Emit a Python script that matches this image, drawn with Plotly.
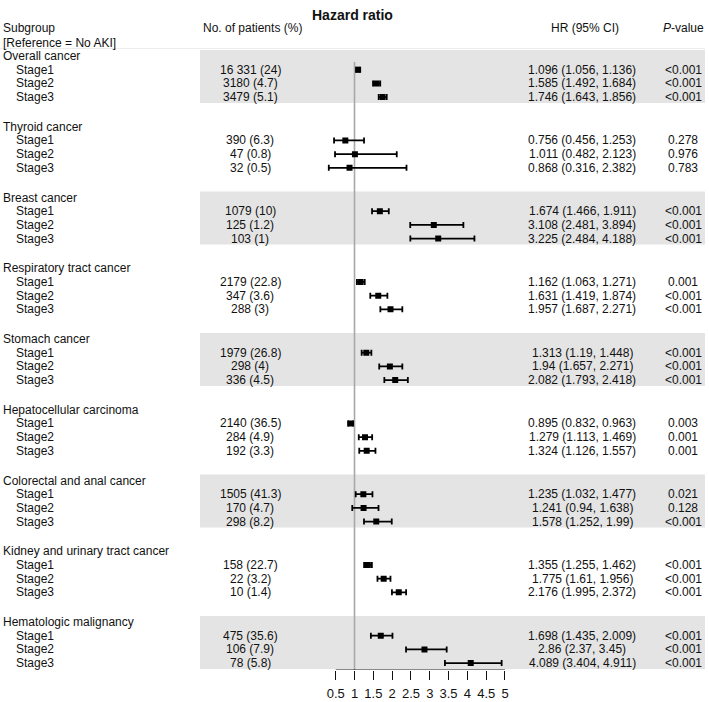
import plotly.graph_objects as go

# ---------------- data ----------------
groups = ["Overall cancer", "Thyroid cancer", "Breast cancer", "Respiratory tract cancer",
          "Stomach cancer", "Hepatocellular carcinoma", "Colorectal and anal cancer",
          "Kidney and urinary tract cancer", "Hematologic malignancy"]
stages = ["Stage1", "Stage2", "Stage3"]

patients = [16331, 3180, 3479,
            390, 47, 32,
            1079, 125, 103,
            2179, 347, 288,
            1979, 298, 336,
            2140, 284, 192,
            1505, 170, 298,
            158, 22, 10,
            475, 106, 78]
percents = [24, 4.7, 5.1,
            6.3, 0.8, 0.5,
            10, 1.2, 1,
            22.8, 3.6, 3,
            26.8, 4, 4.5,
            36.5, 4.9, 3.3,
            41.3, 4.7, 8.2,
            22.7, 3.2, 1.4,
            35.6, 7.9, 5.8]
hr = [1.096, 1.585, 1.746,
      0.756, 1.011, 0.868,
      1.674, 3.108, 3.225,
      1.162, 1.631, 1.957,
      1.313, 1.94, 2.082,
      0.895, 1.279, 1.324,
      1.235, 1.241, 1.578,
      1.355, 1.775, 2.176,
      1.698, 2.86, 4.089]
ci_low = [1.056, 1.492, 1.643,
          0.456, 0.482, 0.316,
          1.466, 2.481, 2.484,
          1.063, 1.419, 1.687,
          1.19, 1.657, 1.793,
          0.832, 1.113, 1.126,
          1.032, 0.94, 1.252,
          1.255, 1.61, 1.995,
          1.435, 2.37, 3.404]
ci_high = [1.136, 1.684, 1.856,
           1.253, 2.123, 2.382,
           1.911, 3.894, 4.188,
           1.271, 1.874, 2.271,
           1.448, 2.271, 2.418,
           0.963, 1.469, 1.557,
           1.477, 1.638, 1.99,
           1.462, 1.956, 2.372,
           2.009, 3.45, 4.911]
pvalues = ["<0.001", "<0.001", "<0.001",
           "0.278", "0.976", "0.783",
           "<0.001", "<0.001", "<0.001",
           "0.001", "<0.001", "<0.001",
           "<0.001", "<0.001", "<0.001",
           "0.003", "0.001", "0.001",
           "0.021", "0.128", "<0.001",
           "<0.001", "<0.001", "<0.001",
           "<0.001", "<0.001", "<0.001"]
tick_vals = [0.5, 1, 1.5, 2, 2.5, 3, 3.5, 4, 4.5, 5]
tick_text = ["0.5", "1", "1.5", "2", "2.5", "3", "3.5", "4", "4.5", "5"]

# ---------------- layout helpers ----------------
W, H = 709, 702
FONT = "Liberation Sans, Arial, sans-serif"
TXT = "#111111"
AX_BOTTOM = 670
GROUP_STEP = 70.75
ROW_STEP = 13.7
FIRST = 56


def fmt_n(n):
    s = str(n)
    if n >= 10000:
        s = s[:-3] + " " + s[-3:]
    return s


def g(v):
    return f"{v:g}"


header_y = [FIRST + GROUP_STEP * i for i in range(len(groups))]
row_y = []
for i in range(len(groups)):
    for k in range(3):
        row_y.append(header_y[i] + ROW_STEP * (k + 1))


def px(x):
    return x / W


fig = go.Figure()

# bands
shapes = []
for i in range(0, len(groups), 2):
    shapes.append(dict(type="rect", xref="paper", yref="y",
                       x0=px(200), x1=px(705), y0=header_y[i] - 6, y1=header_y[i] + 3 * ROW_STEP + 6,
                       fillcolor="#e4e4e4", line=dict(width=0), layer="below"))
# faint header separator
shapes.append(dict(type="line", xref="paper", yref="y", x0=0, x1=px(705), y0=48.5, y1=48.5,
                   line=dict(color="#ececec", width=1), layer="below"))
# reference line at HR = 1
shapes.append(dict(type="line", xref="x", yref="y", x0=1, x1=1, y0=62, y1=AX_BOTTOM,
                   line=dict(color="#a8a8a8", width=1.6), layer="below"))
# axis line from 0.5 to 5
shapes.append(dict(type="line", xref="x", yref="y", x0=tick_vals[0], x1=tick_vals[-1],
                   y0=AX_BOTTOM, y1=AX_BOTTOM, line=dict(color="#111111", width=1)))

fig.add_trace(go.Scatter(
    x=hr, y=row_y, mode="markers",
    marker=dict(symbol="square", size=6, color="#000000"),
    error_x=dict(type="data", symmetric=False,
                 array=[h - c for c, h in zip(hr, ci_high)],
                 arrayminus=[c - l for c, l in zip(hr, ci_low)],
                 color="#000000", thickness=1.8, width=3),
    hoverinfo="skip", showlegend=False,
))

ann = []


def add(text, x, y, anchor="center", size=12, bold=False):
    ann.append(dict(text=("<b>%s</b>" % text) if bold else text, x=px(x), y=y,
                    xref="paper", yref="y", xanchor=anchor, yanchor="middle",
                    showarrow=False, font=dict(family=FONT, size=size, color=TXT)))


add("Hazard ratio", 352, 15, size=14, bold=True)
add("Subgroup", 0.5, 28, anchor="left")
add("[Reference = No AKI]", 0.5, 43, anchor="left")
add("No. of patients (%)", 252, 28)
add("HR (95% CI)", 585, 28)
add("<i>P</i>-value", 683, 28)

for i, name in enumerate(groups):
    add(name, 0.5, header_y[i], anchor="left")
    for k in range(3):
        j = i * 3 + k
        y = row_y[j]
        add(stages[k], 13.5, y, anchor="left")
        add(f"{fmt_n(patients[j])} ({g(percents[j])})", 250, y)
        add(f"{g(hr[j])} ({g(ci_low[j])}, {g(ci_high[j])})", 582, y)
        add(pvalues[j], 683, y)

x_lo, x_hi = 0.0, 5.5
x_left_px = 335.7 - 0.5 * 37.62
x_right_px = x_left_px + 5.5 * 37.62

fig.update_layout(
    width=W, height=H,
    margin=dict(l=0, r=0, t=0, b=0),
    paper_bgcolor="white", plot_bgcolor="rgba(0,0,0,0)",
    shapes=shapes, annotations=ann,
    font=dict(family=FONT, size=12, color=TXT),
    xaxis=dict(domain=[px(x_left_px), px(x_right_px)], range=[x_lo, x_hi],
               tickvals=tick_vals, ticktext=tick_text, ticks="outside", ticklen=9,
               tickwidth=1, tickcolor="#111111", showline=False, showgrid=False,
               zeroline=False, tickfont=dict(family=FONT, size=13, color=TXT),
               ticklabelstandoff=2, fixedrange=True),
    yaxis=dict(domain=[(H - AX_BOTTOM) / H, 1], range=[AX_BOTTOM, 0], visible=False,
               showgrid=False, zeroline=False, fixedrange=True),
)

fig.write_html("out.html", config={"displayModeBar": False},
               post_script="document.body.style.margin='0';document.body.style.padding='0';"
                           "document.body.style.overflow='hidden';")
